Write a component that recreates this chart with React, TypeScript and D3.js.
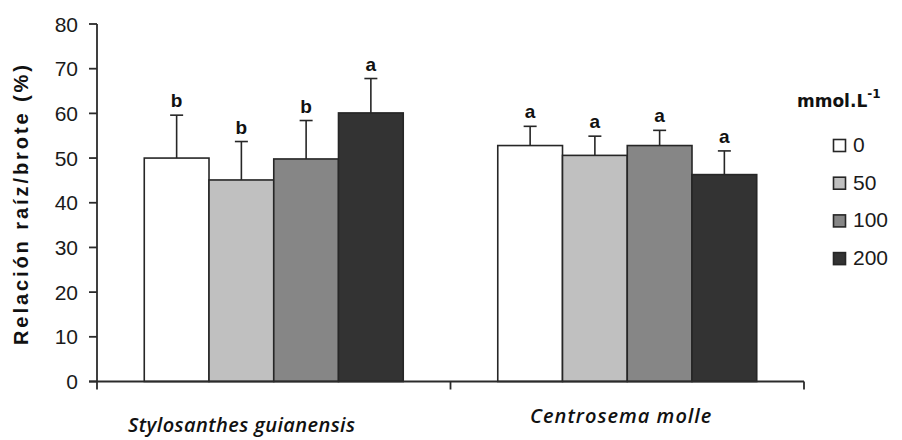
import React from 'react'
import * as d3 from 'd3'

// Data
const species = ['Stylosanthes guianensis', 'Centrosema molle']
const doses = ['0', '50', '100', '200']
const meansStylo = [50, 45.1, 49.8, 60.1]
const meansCentro = [52.8, 50.6, 52.8, 46.3]
const sdStylo = [9.6, 8.6, 8.6, 7.7]
const sdCentro = [4.3, 4.3, 3.4, 5.3]
const lettersStylo = ['b', 'b', 'b', 'a']
const lettersCentro = ['a', 'a', 'a', 'a']
const yTicks = [0, 10, 20, 30, 40, 50, 60, 70, 80]

const fills = ['#ffffff', '#c0c0c0', '#868686', '#333333']

export default function App() {
  const W = 902
  const H = 440

  const x = d3.scaleBand<string>().domain(species).range([97, 804]).padding(0)
  const xs = d3
    .scaleBand<string>()
    .domain(doses)
    .range([0, x.bandwidth()])
    .paddingInner(0)
    .paddingOuter(0.73)
  const y = d3.scaleLinear().domain([0, 80]).range([381.5, 24])

  const rows = [
    { sp: species[0], means: meansStylo, sd: sdStylo, letters: lettersStylo },
    { sp: species[1], means: meansCentro, sd: sdCentro, letters: lettersCentro }
  ]

  // label nudges
  const labelDx = [-32, -6]
  const labelY = [432, 423]

  const axisColor = '#2b2b2b'
  const boundaries = [...species.map(s => x(s) as number), 804]

  return (
    <svg
      width={W}
      height={H}
      style={{ position: 'absolute', left: 0, top: 0, background: '#fff' }}
    >
      {/* bars */}
      {rows.map(r => (
        <g key={r.sp}>
          {doses.map((d, i) => {
            const bx = (x(r.sp) as number) + (xs(d) as number)
            const bw = xs.bandwidth()
            const top = y(r.means[i])
            const errTop = y(r.means[i] + r.sd[i])
            const cx = bx + bw / 2
            return (
              <g key={d}>
                <rect
                  x={bx}
                  y={top}
                  width={bw}
                  height={y(0) - top}
                  fill={fills[i]}
                  stroke="#262626"
                  strokeWidth={1.6}
                />
                <line x1={cx} x2={cx} y1={top} y2={errTop} stroke="#262626" strokeWidth={1.6} />
                <line x1={cx - 6.5} x2={cx + 6.5} y1={errTop} y2={errTop} stroke="#262626" strokeWidth={1.6} />
                <text
                  x={cx}
                  y={errTop - 8}
                  textAnchor="middle"
                  fontFamily="Arial, 'Liberation Sans', sans-serif"
                  fontWeight="bold"
                  fontSize={19}
                  fill="#111"
                >
                  {r.letters[i]}
                </text>
              </g>
            )
          })}
        </g>
      ))}

      {/* y axis */}
      <line x1={97} x2={97} y1={y(80)} y2={y(0)} stroke={axisColor} strokeWidth={1.8} />
      {yTicks.map(t => (
        <g key={t}>
          <line x1={89} x2={97} y1={y(t)} y2={y(t)} stroke={axisColor} strokeWidth={1.8} />
          <text
            x={78}
            y={y(t)}
            dy="0.36em"
            textAnchor="end"
            fontFamily="Arial, 'Liberation Sans', sans-serif"
            fontSize={21}
            fill="#1a1a1a"
          >
            {t}
          </text>
        </g>
      ))}
      <text
        transform={`translate(28, 205) rotate(-90)`}
        textAnchor="middle"
        fontFamily="Arial, 'Liberation Sans', sans-serif"
        fontWeight="bold"
        fontSize={20}
        textLength={280}
        lengthAdjust="spacing"
        fill="#111"
      >
        Relación raíz/brote (%)
      </text>

      {/* x axis */}
      <line x1={89} x2={804} y1={y(0)} y2={y(0)} stroke={axisColor} strokeWidth={1.8} />
      {boundaries.map((b, i) => (
        <line key={i} x1={b} x2={b} y1={y(0)} y2={y(0) + 8} stroke={axisColor} strokeWidth={1.8} />
      ))}
      {species.map((s, i) => (
        <text
          key={s}
          x={(x(s) as number) + x.bandwidth() / 2 + labelDx[i]}
          y={labelY[i]}
          textAnchor="middle"
          fontFamily="'Open Sans', 'Noto Sans', sans-serif"
          fontStyle="italic"
          fontWeight={600}
          fontSize={20}
          letterSpacing={i === 1 ? 1 : 0.4}
          fill="#111"
        >
          {s}
        </text>
      ))}

      {/* legend */}
      <text
        x={797}
        y={107}
        fontFamily="'DejaVu Sans', Verdana, sans-serif"
        fontWeight="bold"
        fontSize={17}
        fill="#111"
      >
        mmol.L
        <tspan dy={-9} fontSize={12}>
          -1
        </tspan>
      </text>
      {doses.map((d, i) => {
        const ly = 152 + i * 37.7
        return (
          <g key={d}>
            <rect
              x={833.5}
              y={ly - 12.5}
              width={12}
              height={12}
              fill={fills[i]}
              stroke="#262626"
              strokeWidth={1.6}
            />
            <text
              x={853}
              y={ly}
              fontFamily="Arial, 'Liberation Sans', sans-serif"
              fontSize={21}
              fill="#1a1a1a"
            >
              {d}
            </text>
          </g>
        )
      })}
    </svg>
  )
}
